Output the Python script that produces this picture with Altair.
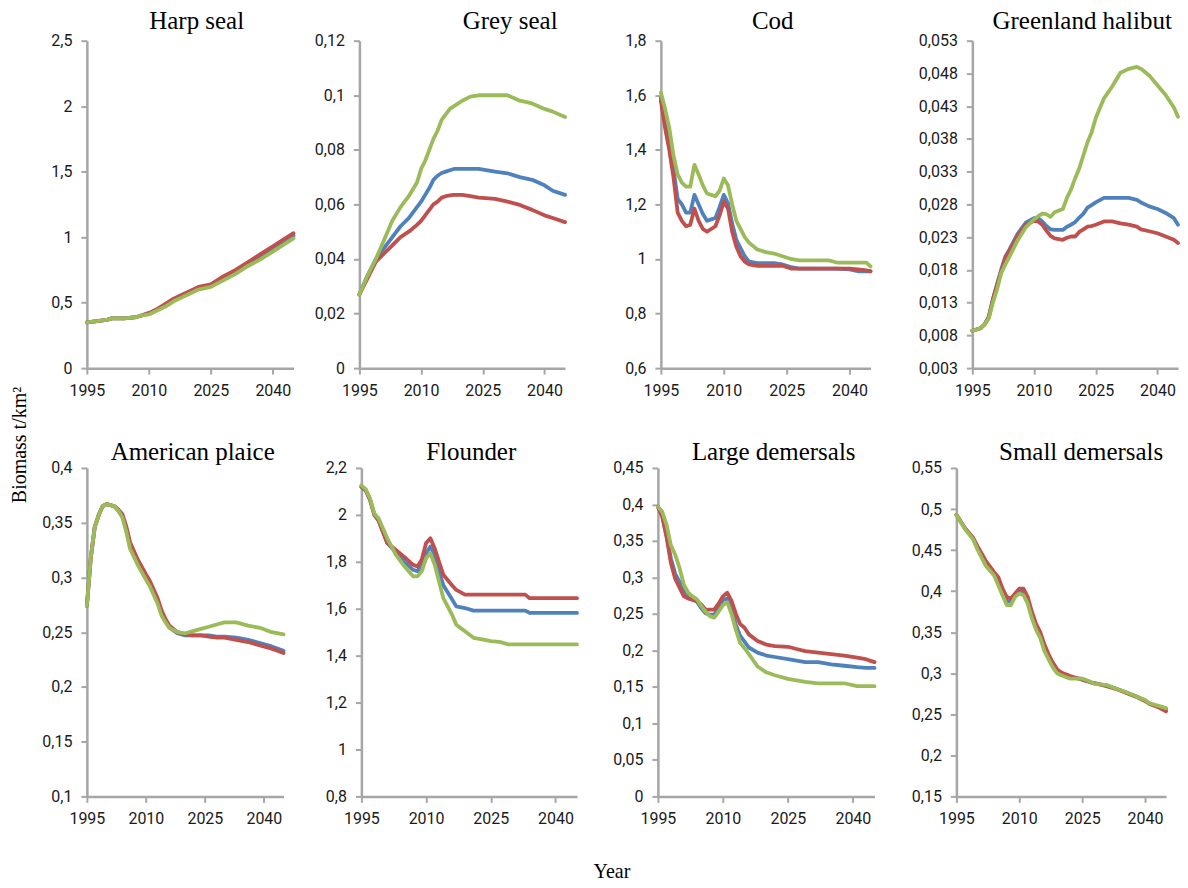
import altair as alt
import pandas as pd

BLUE = "#4F81BD"
RED = "#C0504D"
GREEN = "#9BBB59"
SERIF = "Liberation Serif"
SANS = "Roboto"

X_TICKS = [1995, 2010, 2025, 2040]

# ---------------- Harp seal ----------------
HARP_YEARS = [1995, 1998, 2000, 2001, 2004, 2007, 2008, 2010, 2012, 2014, 2016, 2018, 2020, 2022, 2025, 2028, 2031, 2034, 2037, 2040, 2043, 2045]
HARP_BLUE = [0.35, 0.36, 0.37, 0.38, 0.38, 0.39, 0.40, 0.42, 0.45, 0.48, 0.52, 0.55, 0.58, 0.61, 0.63, 0.69, 0.74, 0.80, 0.85, 0.91, 0.97, 1.01]
HARP_RED = [0.35, 0.36, 0.37, 0.38, 0.38, 0.39, 0.40, 0.42, 0.45, 0.49, 0.53, 0.56, 0.59, 0.62, 0.64, 0.70, 0.75, 0.81, 0.87, 0.93, 0.99, 1.03]
HARP_GREEN = [0.35, 0.36, 0.37, 0.38, 0.38, 0.39, 0.40, 0.41, 0.44, 0.47, 0.51, 0.54, 0.57, 0.60, 0.62, 0.67, 0.72, 0.78, 0.83, 0.89, 0.95, 0.99]
HARP_TICKS = [0, 0.5, 1, 1.5, 2, 2.5]

# ---------------- Grey seal ----------------
GREY_YEARS = [1995, 1997, 1999, 2001, 2003, 2005, 2007, 2009, 2010, 2011, 2012, 2013, 2014, 2015, 2016, 2017, 2018, 2020, 2022, 2024, 2028, 2031, 2034, 2037, 2040, 2042, 2045]
GREY_BLUE = [0.027, 0.034, 0.040, 0.044, 0.048, 0.052, 0.055, 0.059, 0.061, 0.0635, 0.066, 0.069, 0.0705, 0.0715, 0.072, 0.0725, 0.073, 0.073, 0.073, 0.073, 0.072, 0.0714, 0.070, 0.069, 0.067, 0.065, 0.0635]
GREY_RED = [0.027, 0.033, 0.039, 0.042, 0.045, 0.048, 0.050, 0.0525, 0.054, 0.056, 0.058, 0.060, 0.061, 0.0625, 0.063, 0.0633, 0.0635, 0.0635, 0.063, 0.0625, 0.062, 0.061, 0.0598, 0.058, 0.056, 0.055, 0.0535]
GREY_GREEN = [0.027, 0.034, 0.040, 0.047, 0.054, 0.059, 0.063, 0.068, 0.073, 0.076, 0.080, 0.084, 0.087, 0.091, 0.093, 0.095, 0.096, 0.098, 0.0995, 0.100, 0.100, 0.100, 0.098, 0.097, 0.095, 0.094, 0.092]
GREY_TICKS = [0, 0.02, 0.04, 0.06, 0.08, 0.1, 0.12]

# ---------------- Cod ----------------
COD_YEARS = [1995, 1996, 1997, 1998, 1999, 2000, 2001, 2002, 2003, 2004, 2005, 2006, 2007, 2008, 2009, 2010, 2011, 2012, 2013, 2014, 2015, 2016, 2018, 2020, 2022, 2024, 2026, 2028, 2032, 2035, 2037, 2040, 2042, 2044, 2045]
COD_BLUE = [1.59, 1.50, 1.43, 1.33, 1.22, 1.20, 1.17, 1.17, 1.235, 1.20, 1.165, 1.14, 1.145, 1.15, 1.19, 1.235, 1.205, 1.13, 1.07, 1.04, 1.01, 0.99, 0.985, 0.985, 0.985, 0.98, 0.97, 0.965, 0.965, 0.965, 0.965, 0.962, 0.955, 0.955, 0.955]
COD_RED = [1.58, 1.48, 1.40, 1.30, 1.17, 1.14, 1.12, 1.125, 1.185, 1.14, 1.11, 1.10, 1.11, 1.12, 1.16, 1.21, 1.185, 1.10, 1.045, 1.01, 0.99, 0.98, 0.975, 0.975, 0.975, 0.975, 0.965, 0.965, 0.965, 0.965, 0.965, 0.965, 0.962, 0.958, 0.955]
COD_GREEN = [1.61, 1.55, 1.48, 1.38, 1.31, 1.28, 1.265, 1.265, 1.345, 1.31, 1.27, 1.24, 1.235, 1.23, 1.25, 1.295, 1.27, 1.20, 1.14, 1.11, 1.08, 1.06, 1.035, 1.025, 1.02, 1.01, 1.0, 0.995, 0.995, 0.995, 0.987, 0.987, 0.987, 0.987, 0.973]
COD_TICKS = [0.6, 0.8, 1, 1.2, 1.4, 1.6, 1.8]

# ---------------- Greenland halibut ----------------
HAL_YEARS = [1995, 1997, 1998, 1999, 2000, 2001, 2002, 2003, 2004, 2006, 2008, 2010, 2011, 2012, 2013, 2014, 2015, 2017, 2018, 2019, 2020, 2021, 2022, 2023, 2024, 2025, 2027, 2029, 2031, 2033, 2035, 2036, 2038, 2040, 2042, 2044, 2045]
HAL_BLUE = [0.0087, 0.0091, 0.0097, 0.0108, 0.0135, 0.0158, 0.0180, 0.0200, 0.0211, 0.0235, 0.0252, 0.0259, 0.0259, 0.0254, 0.0247, 0.0242, 0.0241, 0.0241, 0.0246, 0.0249, 0.0253, 0.0260, 0.0266, 0.0275, 0.0279, 0.0283, 0.0290, 0.0290, 0.0290, 0.0290, 0.0287, 0.0283, 0.0277, 0.0273, 0.0267, 0.0259, 0.0249]
HAL_RED = [0.0087, 0.0091, 0.0097, 0.0108, 0.0135, 0.0157, 0.0178, 0.0198, 0.0209, 0.0232, 0.0249, 0.0255, 0.0254, 0.0249, 0.0240, 0.0232, 0.0228, 0.0226, 0.0229, 0.0231, 0.0231, 0.0238, 0.0242, 0.0246, 0.0247, 0.0249, 0.0254, 0.0254, 0.0251, 0.0249, 0.0246, 0.0242, 0.0239, 0.0236, 0.0231, 0.0226, 0.0221]
HAL_GREEN = [0.0087, 0.0091, 0.0097, 0.0106, 0.0130, 0.0150, 0.0175, 0.0188, 0.0200, 0.0225, 0.0245, 0.0257, 0.0262, 0.0266, 0.0265, 0.0261, 0.0268, 0.0273, 0.0290, 0.0303, 0.0320, 0.0335, 0.0355, 0.0375, 0.0390, 0.0412, 0.0442, 0.0460, 0.0481, 0.0487, 0.0490, 0.0487, 0.0477, 0.0462, 0.0447, 0.0428, 0.0414]
HAL_TICKS = [0.003, 0.008, 0.013, 0.018, 0.023, 0.028, 0.033, 0.038, 0.043, 0.048, 0.053]

# ---------------- American plaice ----------------
PLA_YEARS = [1995, 1996, 1997, 1998, 1999, 2000, 2001, 2002, 2003, 2004, 2005, 2006, 2008, 2010, 2011, 2012, 2013, 2014, 2015, 2016, 2018, 2020, 2022, 2024, 2026, 2028, 2030, 2033, 2036, 2039, 2042, 2045]
PLA_BLUE = [0.274, 0.318, 0.346, 0.357, 0.365, 0.367, 0.366, 0.365, 0.361, 0.356, 0.344, 0.329, 0.313, 0.300, 0.294, 0.286, 0.278, 0.267, 0.260, 0.254, 0.249, 0.247, 0.247, 0.247, 0.247, 0.246, 0.246, 0.245, 0.243, 0.240, 0.237, 0.233]
PLA_RED = [0.274, 0.318, 0.346, 0.357, 0.365, 0.367, 0.366, 0.365, 0.362, 0.358, 0.347, 0.332, 0.316, 0.303, 0.297, 0.289, 0.281, 0.270, 0.262, 0.256, 0.250, 0.248, 0.247, 0.247, 0.246, 0.245, 0.245, 0.243, 0.241, 0.238, 0.235, 0.231]
PLA_GREEN = [0.274, 0.318, 0.346, 0.357, 0.365, 0.367, 0.366, 0.365, 0.361, 0.355, 0.342, 0.326, 0.311, 0.298, 0.292, 0.284, 0.276, 0.265, 0.259, 0.254, 0.250, 0.249, 0.251, 0.253, 0.255, 0.257, 0.259, 0.259, 0.256, 0.254, 0.250, 0.248]
PLA_TICKS = [0.1, 0.15, 0.2, 0.25, 0.3, 0.35, 0.4]

# ---------------- Flounder ----------------
FLO_YEARS = [1995, 1996, 1997, 1998, 1999, 2001, 2003, 2005, 2007, 2008, 2009, 2010, 2011, 2012, 2013, 2014, 2016, 2017, 2019, 2021, 2023, 2025, 2027, 2029, 2033, 2034, 2045]
FLO_BLUE = [2.12, 2.105, 2.065, 2.0, 1.975, 1.88, 1.84, 1.80, 1.766, 1.76, 1.787, 1.836, 1.865, 1.83, 1.76, 1.70, 1.64, 1.61, 1.603, 1.592, 1.592, 1.592, 1.592, 1.592, 1.592, 1.582, 1.582]
FLO_RED = [2.12, 2.105, 2.065, 2.0, 1.975, 1.88, 1.85, 1.82, 1.787, 1.78, 1.81, 1.88, 1.90, 1.857, 1.80, 1.745, 1.70, 1.68, 1.66, 1.66, 1.66, 1.66, 1.66, 1.66, 1.66, 1.645, 1.645]
FLO_GREEN = [2.126, 2.11, 2.07, 2.006, 1.985, 1.90, 1.83, 1.78, 1.738, 1.738, 1.76, 1.815, 1.836, 1.787, 1.716, 1.645, 1.575, 1.532, 1.504, 1.476, 1.469, 1.462, 1.459, 1.448, 1.448, 1.448, 1.448]
FLO_TICKS = [0.8, 1, 1.2, 1.4, 1.6, 1.8, 2, 2.2]

# ---------------- Large demersals ----------------
LD_YEARS = [1995, 1996, 1997, 1998, 1999, 2000, 2001, 2002, 2003, 2004, 2005, 2006, 2007, 2008, 2009, 2010, 2011, 2012, 2013, 2014, 2015, 2016, 2018, 2020, 2022, 2025, 2027, 2029, 2032, 2035, 2038, 2041, 2043, 2045]
LD_BLUE = [0.397, 0.385, 0.358, 0.326, 0.305, 0.294, 0.281, 0.272, 0.269, 0.267, 0.258, 0.251, 0.249, 0.249, 0.258, 0.269, 0.271, 0.255, 0.235, 0.220, 0.212, 0.204, 0.197, 0.193, 0.191, 0.188, 0.186, 0.184, 0.184, 0.181, 0.179, 0.177, 0.176, 0.176]
LD_RED = [0.397, 0.383, 0.355, 0.320, 0.298, 0.286, 0.274, 0.271, 0.270, 0.267, 0.263, 0.256, 0.256, 0.256, 0.264, 0.274, 0.279, 0.268, 0.250, 0.236, 0.231, 0.222, 0.213, 0.208, 0.206, 0.205, 0.202, 0.199, 0.197, 0.195, 0.193, 0.190, 0.188, 0.184]
LD_GREEN = [0.397, 0.390, 0.372, 0.344, 0.331, 0.313, 0.290, 0.279, 0.274, 0.270, 0.261, 0.253, 0.247, 0.245, 0.253, 0.262, 0.266, 0.250, 0.228, 0.210, 0.203, 0.195, 0.178, 0.170, 0.166, 0.161, 0.159, 0.157, 0.155, 0.155, 0.155, 0.151, 0.151, 0.151]
LD_TICKS = [0, 0.05, 0.1, 0.15, 0.2, 0.25, 0.3, 0.35, 0.4, 0.45]

# ---------------- Small demersals ----------------
SD_YEARS = [1995, 1997, 1999, 2000, 2002, 2004, 2005, 2006, 2007, 2008, 2009, 2010, 2011, 2012, 2013, 2014, 2015, 2016, 2017, 2018, 2019, 2020, 2022, 2025, 2027, 2028, 2031, 2033, 2036, 2038, 2040, 2041, 2043, 2045]
SD_BLUE = [0.493, 0.477, 0.464, 0.453, 0.434, 0.421, 0.412, 0.399, 0.388, 0.387, 0.395, 0.400, 0.400, 0.389, 0.371, 0.356, 0.346, 0.331, 0.320, 0.310, 0.302, 0.299, 0.295, 0.293, 0.289, 0.2875, 0.285, 0.2815, 0.2755, 0.2715, 0.267, 0.263, 0.2595, 0.256]
SD_RED = [0.493, 0.477, 0.465, 0.455, 0.437, 0.423, 0.417, 0.403, 0.393, 0.391, 0.397, 0.403, 0.403, 0.393, 0.375, 0.360, 0.350, 0.335, 0.323, 0.313, 0.305, 0.301, 0.297, 0.292, 0.289, 0.288, 0.284, 0.281, 0.275, 0.271, 0.266, 0.263, 0.259, 0.2535]
SD_GREEN = [0.493, 0.476, 0.463, 0.451, 0.431, 0.419, 0.407, 0.395, 0.383, 0.383, 0.393, 0.397, 0.395, 0.385, 0.367, 0.353, 0.343, 0.327, 0.317, 0.307, 0.300, 0.2975, 0.2935, 0.2935, 0.2895, 0.287, 0.2855, 0.2815, 0.276, 0.2715, 0.2675, 0.2635, 0.2605, 0.2575]
SD_TICKS = [0.15, 0.2, 0.25, 0.3, 0.35, 0.4, 0.45, 0.5, 0.55]

LABEL_EXPR = "replace(format(datum.value, '.3~f'), '.', ',')"


def panel(title, years, blue, red, green, ticks, width, height, extent, tdx, tdy):
    df = pd.DataFrame({
        "year": years * 3,
        "value": blue + red + green,
        "s": ["b"] * len(years) + ["r"] * len(years) + ["g"] * len(years),
    })
    x = alt.X("year:Q",
              scale=alt.Scale(domain=[1995, 2045], nice=False, zero=False),
              axis=alt.Axis(values=X_TICKS, format="d", title=None, labelFlush=False,
                            labelPadding=8))
    y = alt.Y("value:Q",
              scale=alt.Scale(domain=[ticks[0], ticks[-1]], nice=False, zero=False),
              axis=alt.Axis(values=ticks, labelExpr=LABEL_EXPR, title=None,
                            labelPadding=9, minExtent=extent, maxExtent=extent))
    base = alt.Chart(df).encode(x=x, y=y)
    layers = []
    for key, col in (("b", BLUE), ("r", RED), ("g", GREEN)):
        layers.append(
            base.transform_filter(alt.datum.s == key)
            .mark_line(color=col, strokeWidth=3.8, strokeJoin="round", strokeCap="round")
        )
    ttl = alt.Chart(pd.DataFrame({"t": [title]})).mark_text(
        font=SERIF, fontSize=25, color="#000000", baseline="middle", align="center"
    ).encode(x=alt.value(tdx), y=alt.value(tdy), text="t:N")
    layers.append(ttl)
    return alt.layer(*layers).properties(width=width, height=height)


row1 = alt.hconcat(
    panel("Harp seal", HARP_YEARS, HARP_BLUE, HARP_RED, HARP_GREEN, HARP_TICKS, 207, 328, 47, 110, -20),
    panel("Grey seal", GREY_YEARS, GREY_BLUE, GREY_RED, GREY_GREEN, GREY_TICKS, 206, 328, 64, 151, -20),
    panel("Cod", COD_YEARS, COD_BLUE, COD_RED, COD_GREEN, COD_TICKS, 210, 328, 94, 112, -20),
    panel("Greenland halibut", HAL_YEARS, HAL_BLUE, HAL_RED, HAL_GREEN, HAL_TICKS, 206, 328, 100, 110, -20),
    spacing=0,
)
row2 = alt.hconcat(
    panel("American plaice", PLA_YEARS, PLA_BLUE, PLA_RED, PLA_GREEN, PLA_TICKS, 197, 329, 49, 106, -16),
    panel("Flounder", FLO_YEARS, FLO_BLUE, FLO_RED, FLO_GREEN, FLO_TICKS, 216, 329, 76, 110, -16),
    panel("Large demersals", LD_YEARS, LD_BLUE, LD_RED, LD_GREEN, LD_TICKS, 217, 329, 79, 116, -16),
    panel("Small demersals", SD_YEARS, SD_BLUE, SD_RED, SD_GREEN, SD_TICKS, 210, 329, 80, 125, -16),
    spacing=0,
)

grid = alt.vconcat(row1, row2, spacing=42)

bio = alt.Chart(pd.DataFrame({"t": ["Biomass t/km\u00b2"]})).mark_text(
    font=SERIF, fontSize=20, angle=270, color="#000000", baseline="middle", align="center"
).encode(x=alt.value(12), y=alt.value(405), text="t:N").properties(width=30, height=800)

chart = alt.hconcat(bio, grid, spacing=0).properties(
    padding=0,
    title=alt.TitleParams("Year", orient="bottom", anchor="middle", font=SERIF,
                          fontSize=20, fontWeight="normal", color="#000000", offset=23, dx=18),
).configure_view(stroke=None).configure_axis(
    grid=False,
    domainColor="#A6A6A6",
    domainWidth=2.5,
    tickColor="#A6A6A6",
    tickWidth=2,
    tickSize=6,
    labelFont=SANS,
    labelFontSize=16,
    labelColor="#1a1a1a",
)

chart.save("out.html", embed_options={"renderer": "svg", "actions": False})
